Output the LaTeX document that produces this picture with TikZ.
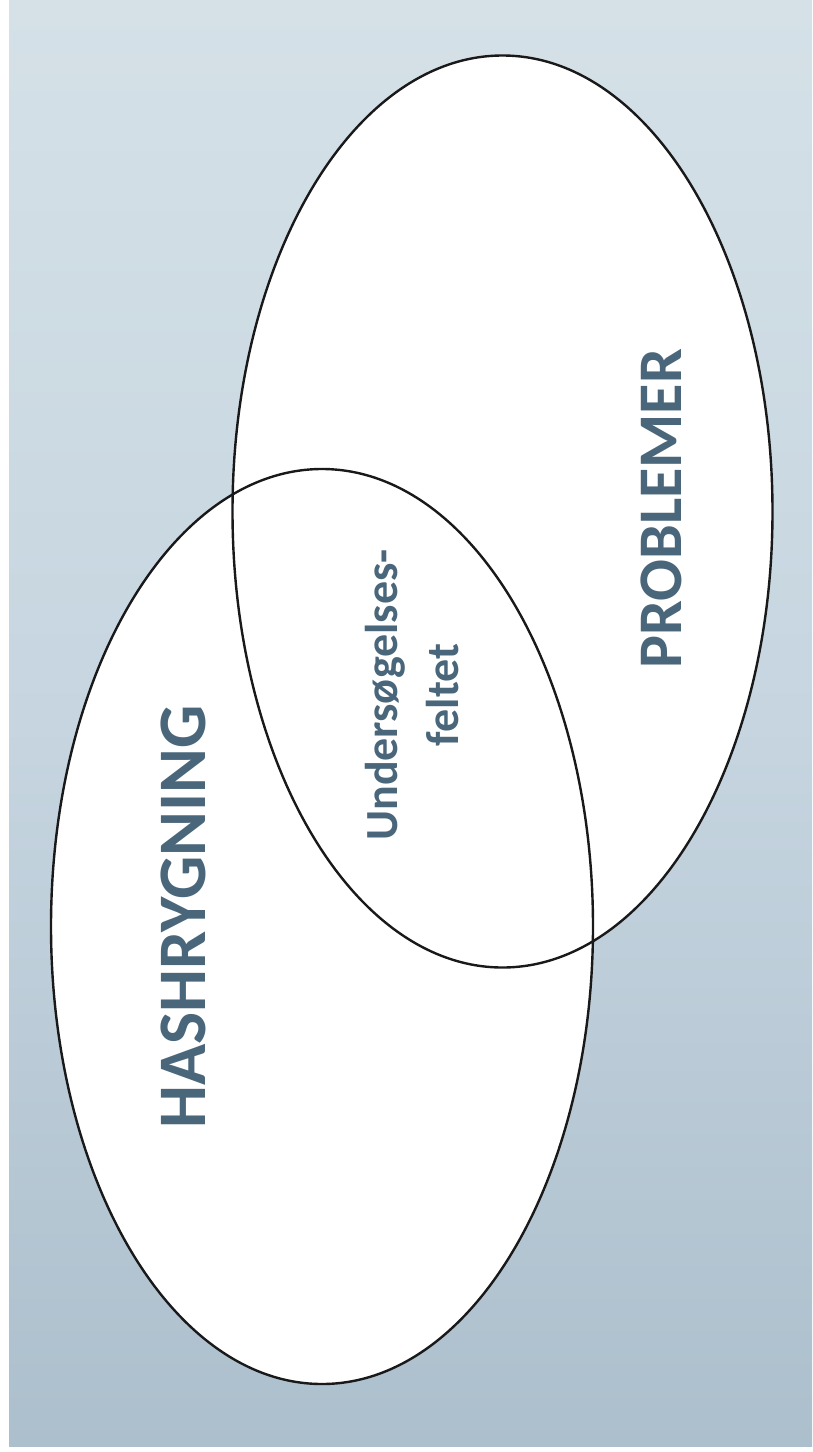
\documentclass[tikz,border=0pt]{standalone}
\usepackage{fontspec}
\setmainfont{Carlito}
\definecolor{bgtop}{RGB}{213,225,231}
\definecolor{bgmid}{RGB}{198,213,224}
\definecolor{bgbot}{RGB}{172,191,204}
\definecolor{txt}{RGB}{74,102,122}
\begin{document}
\begin{tikzpicture}[x=1pt,y=-1pt,
  venn/.style={draw=black!90,line width=2.4pt},
  lbl/.style={text=txt,font=\bfseries,rotate=90,inner sep=0pt,align=center}]
\useasboundingbox (0,0) rectangle (812,1452);
\fill[white] (0,0) rectangle (812,1452);
\shade[top color=bgtop,bottom color=bgbot,middle color=bgmid] (9,0) rectangle (812,1446);
% white fills
\fill[white] (502.5,511.5) ellipse [x radius=270, y radius=456];
\fill[white] (322,926.5) ellipse [x radius=271, y radius=457.5];
% outlines
\draw[venn] (502.5,511.5) ellipse [x radius=270, y radius=456];
\draw[venn] (322,926.5) ellipse [x radius=271, y radius=457.5];
\node[lbl,font=\bfseries\fontsize{62}{70}\selectfont] (prob) at (661,509) {PROBLEMER};
\node[lbl,font=\bfseries\fontsize{68}{76}\selectfont] (hash) at (183,917) {HASHRYGNING};
\node[lbl,font=\bfseries\fontsize{46}{61}\selectfont] (unders) at (412,695) {Undersøgelses-\\feltet};
\end{tikzpicture}
\end{document}
